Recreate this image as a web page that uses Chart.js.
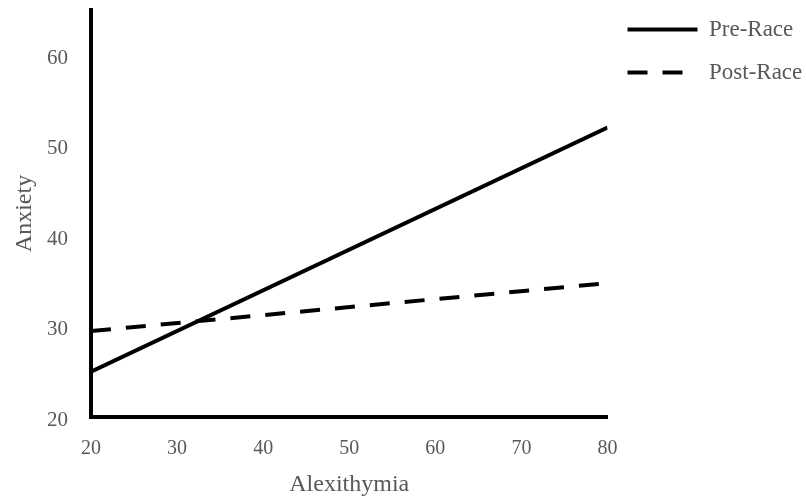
<!DOCTYPE html>
<html>
<head>
<meta charset="utf-8">
<script src="https://cdn.jsdelivr.net/npm/chart.js@4"></script>
<style>
  html, body { margin: 0; padding: 0; background: #fff; }
  #wrap { width: 806px; height: 499px; }
</style>
</head>
<body>
<div id="wrap"><canvas id="chart"></canvas></div>
<script>
const ALEXITHYMIA = [20, 80];
const PRE_RACE = [25.0, 52.0];
const POST_RACE = [29.5, 34.8];
const X_TICKS = [20, 30, 40, 50, 60, 70, 80];
const Y_TICKS = [20, 30, 40, 50, 60];

const SERIF = "'Liberation Serif', 'Times New Roman', serif";
const GREY = '#595959';

const toPoints = (xs, ys) => xs.map((x, i) => ({ x: x, y: ys[i] }));

// legend sits a bit higher than chart.js puts it
const nudgeLegend = {
    id: 'nudgeLegend',
    afterLayout(chart) {
        const lg = chart.legend;
        if (!lg) return;
        lg.top -= 12;
        lg.bottom -= 12;
        (lg.legendHitBoxes || []).forEach(b => b.top -= 12);
    }
};

new Chart(document.getElementById('chart'), {
    type: 'line',
    data: {
        datasets: [{
            label: 'Pre-Race',
            data: toPoints(ALEXITHYMIA, PRE_RACE),
            borderColor: '#000',
            backgroundColor: '#000',
            borderWidth: 4,
            pointRadius: 0,
            fill: false
        }, {
            label: 'Post-Race',
            data: toPoints(ALEXITHYMIA, POST_RACE),
            borderColor: '#000',
            backgroundColor: '#000',
            borderWidth: 4,
            borderDash: [20, 15],
            pointRadius: 0,
            fill: false
        }]
    },
    options: {
        responsive: true,
        maintainAspectRatio: false,
        animation: false,
        layout: { padding: { top: 10, left: 0, right: -4, bottom: 0 } },
        plugins: {
            tooltip: { enabled: false },
            legend: {
                position: 'right',
                align: 'start',
                labels: {
                    usePointStyle: true,
                    pointStyle: 'line',
                    pointStyleWidth: 70,
                    padding: 20,
                    color: GREY,
                    font: { family: SERIF, size: 23 },
                    generateLabels: chart => {
                        const items = Chart.defaults.plugins.legend.labels.generateLabels(chart);
                        items.forEach(item => {
                            const ds = chart.data.datasets[item.datasetIndex];
                            item.lineDash = ds.borderDash || [];
                            item.lineWidth = 4;
                            item.strokeStyle = '#000';
                        });
                        return items;
                    }
                }
            }
        },
        scales: {
            x: {
                type: 'linear',
                min: 20,
                max: 80,
                afterBuildTicks: s => { s.ticks = X_TICKS.map(v => ({ value: v })); },
                afterFit: s => { s.height = 82; s.paddingLeft = 0; s.paddingRight = 0; },
                grid: { display: false, drawTicks: false },
                border: { display: true, color: '#000', width: 4 },
                ticks: {
                    padding: 20,
                    color: GREY,
                    font: { family: SERIF, size: 20 }
                },
                title: {
                    display: true,
                    text: 'Alexithymia',
                    color: GREY,
                    padding: { top: 0, bottom: 0 },
                    font: { family: SERIF, size: 24 }
                }
            },
            y: {
                type: 'linear',
                min: 20,
                max: 65,
                afterBuildTicks: s => { s.ticks = Y_TICKS.map(v => ({ value: v })); },
                afterFit: s => { s.width = 91; s.paddingTop = 0; s.paddingBottom = 0; },
                grid: { display: false, drawTicks: false },
                border: { display: true, color: '#000', width: 4 },
                ticks: {
                    padding: 23,
                    labelOffset: 3,
                    color: GREY,
                    font: { family: SERIF, size: 21 }
                },
                title: {
                    display: true,
                    text: 'Anxiety',
                    color: GREY,
                    padding: { top: 10, bottom: 0 },
                    font: { family: SERIF, size: 24 }
                }
            }
        }
    },
    plugins: [nudgeLegend]
});
</script>
</body>
</html>
